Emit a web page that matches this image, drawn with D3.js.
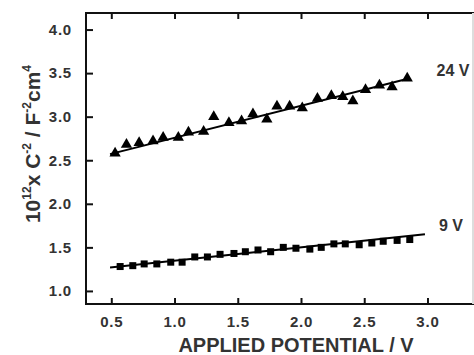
<!DOCTYPE html>
<html><head><meta charset="utf-8">
<script src="https://cdn.jsdelivr.net/npm/d3@7"></script>
<style>body{margin:0;background:#fff}svg{display:block}text{font-family:"Liberation Sans",Arial,sans-serif;font-weight:bold;fill:#333}</style>
</head><body>
<script>
const x24 = [0.53,0.62,0.72,0.83,0.91,1.03,1.11,1.23,1.31,1.43,1.53,1.62,1.73,1.81,1.91,2.01,2.13,2.24,2.33,2.41,2.51,2.62,2.72,2.84];
const y24 = [2.58,2.68,2.70,2.72,2.76,2.76,2.82,2.83,3.00,2.93,2.95,3.03,2.97,3.12,3.12,3.10,3.21,3.24,3.23,3.18,3.31,3.36,3.34,3.44];
const x9 = [0.57,0.67,0.76,0.86,0.97,1.06,1.16,1.26,1.36,1.47,1.56,1.66,1.76,1.86,1.96,2.07,2.16,2.26,2.35,2.46,2.56,2.65,2.76,2.86];
const y9 = [1.28,1.29,1.31,1.31,1.33,1.33,1.39,1.39,1.42,1.43,1.45,1.47,1.45,1.50,1.49,1.48,1.50,1.54,1.54,1.53,1.55,1.57,1.58,1.59];
const fit24 = {x:[0.49,2.86], y:[2.57,3.44]};
const fit9 = {x:[0.49,2.98], y:[1.27,1.65]};
const xTicks = [0.5,1.0,1.5,2.0,2.5,3.0];
const yTicks = [1.0,1.5,2.0,2.5,3.0,3.5,4.0];
const seriesLabels = ["24 V","9 V"];

const W=474,H=355;
const L=86,R=473,T=13,B=304;
const svg=d3.select("body").append("svg").attr("width",W).attr("height",H);
const x=d3.scaleLinear().domain([0.3,3.36]).range([L,R]);
const y=d3.scaleLinear().domain([0.85,4.19]).range([B,T]);

// frame
svg.append("rect").attr("x",L).attr("y",T).attr("width",R-L).attr("height",B-T)
  .attr("fill","none").attr("stroke","#111").attr("stroke-width",2);
svg.append("line").attr("x1",R).attr("x2",R).attr("y1",T).attr("y2",B).attr("stroke","#ddd").attr("stroke-width",2);

const fmt=d3.format(".1f");
const xb=svg.append("g").attr("transform",`translate(0,${B})`)
  .call(d3.axisBottom(x).tickValues(xTicks).tickFormat(fmt).tickSizeInner(-6).tickSizeOuter(0).tickPadding(12));
const xt=svg.append("g").attr("transform",`translate(0,${T})`)
  .call(d3.axisTop(x).tickValues(xTicks).tickFormat("").tickSizeInner(-6).tickSizeOuter(0));
const yl=svg.append("g").attr("transform",`translate(${L},0)`)
  .call(d3.axisLeft(y).tickValues(yTicks).tickFormat(fmt).tickSizeInner(-7).tickSizeOuter(0).tickPadding(14));
[xb,xt,yl].forEach(g=>{
  g.select(".domain").remove();
  g.selectAll(".tick line").attr("stroke","#111").attr("stroke-width",2);
  g.selectAll("text").attr("font-size",15).attr("fill","#333").style("letter-spacing","0.8px").style("font-family","'Liberation Sans',Arial,sans-serif").style("font-weight","bold");
});

// fit lines
const line=d3.line().x(d=>x(d[0])).y(d=>y(d[1]));
[fit24,fit9].forEach(f=>{
  svg.append("path").attr("d",line(d3.zip(f.x,f.y))).attr("fill","none").attr("stroke","#000").attr("stroke-width",2);
});

// markers
const tri=d3.symbol().type(d3.symbolTriangle).size(55);
svg.append("g").selectAll("path").data(d3.zip(x24,y24)).join("path")
  .attr("d",tri).attr("transform",d=>`translate(${x(d[0])},${y(d[1])})`).attr("fill","#000");
svg.append("g").selectAll("rect").data(d3.zip(x9,y9)).join("rect")
  .attr("x",d=>x(d[0])-3.5).attr("y",d=>y(d[1])-3.5).attr("width",7).attr("height",7).attr("fill","#000");

// series labels
svg.append("text").attr("x",453).attr("y",76).attr("text-anchor","middle").attr("font-size",16).text(seriesLabels[0]);
svg.append("text").attr("x",451).attr("y",231).attr("text-anchor","middle").attr("font-size",16).text(seriesLabels[1]);

// axis titles
svg.append("text").attr("x",296).attr("y",352).attr("text-anchor","middle").attr("font-size",20).text("APPLIED POTENTIAL / V");
const yt=svg.append("text").attr("transform","translate(40,144) rotate(-90)").attr("text-anchor","middle").attr("font-size",21);
yt.append("tspan").text("10");
yt.append("tspan").attr("font-size",12).attr("dy",-9).text("12");
yt.append("tspan").attr("dy",9).text("x C");
yt.append("tspan").attr("font-size",12).attr("dy",-9).text("-2");
yt.append("tspan").attr("dy",9).text(" / F");
yt.append("tspan").attr("font-size",12).attr("dy",-9).text("-2");
yt.append("tspan").attr("dy",9).text("cm");
yt.append("tspan").attr("font-size",12).attr("dy",-9).text("4");
</script>
</body></html>
